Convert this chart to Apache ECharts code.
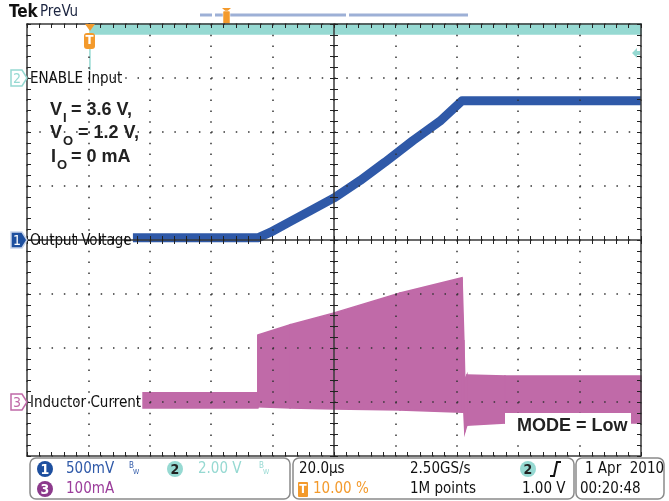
<!DOCTYPE html>
<html>
<head>
<meta charset="utf-8">
<script src="https://cdn.jsdelivr.net/npm/echarts@6/dist/echarts.min.js"></script>
<style>
  html, body { margin: 0; padding: 0; background: #fff; }
  #scope { width: 669px; height: 501px; }
</style>
</head>
<body>
<div id="scope"></div>
<script>
// time axis in µs (20 µs/div, trigger at 10 %), vertical axis in divisions
var xTicks = [-20, 0, 20, 40, 60, 80, 100, 120, 140, 160, 180];

// ch1 output voltage (V), 500 mV/div, ground on the centre line
var ch1Time = [14.5, 55.2, 59.2, 65.7, 72.2, 80, 88.5, 96.6, 105.7, 114.5, 121.7, 180];
var ch1Volt = [0.02, 0.02, 0.07, 0.17, 0.27, 0.39, 0.55, 0.72, 0.92, 1.10, 1.29, 1.29];

// ch2 enable input (V), 2 V/div, ground one div below the top (trace runs off the top)
var ch2Time = [0.5, 180];
var ch2Low = [1.63, 1.63];
var ch2High = [2.0, 2.0];
var ch2EdgeTime = [0.5, 0.5];
var ch2EdgeVolt = [0.3, 1.63];

// ch3 inductor current envelope (mA), 100 mA/div, ground one div above the bottom
var ch3Time = [17.8, 55.2, 55.2, 65.7, 80, 101.5, 121.7, 122.3, 122.6, 123.3, 135.7, 180];
var ch3Top = [17, 17, 124, 143, 165, 202, 230, 115, 42, 50, 48, 48];
var ch3Bottom = [-11, -11, -9, -11, -13, -15, -19, -19, -56, -43, -39, -39];

var BLUE = '#2f59a8', CYAN = '#96d9d2', MAGENTA = '#c06aa8', ORANGE = '#f39a2c';
var TICK = '#222';
var NARROW = '"Liberation Sans Narrow", "DejaVu Sans Condensed", "Roboto Condensed", sans-serif';
var BOLD = 'bold 18px "Liberation Sans", Arial, sans-serif';
var SUB = 'bold 13px "Liberation Sans", Arial, sans-serif';

function toDiv1(v) { return v / 0.5; }
function toDiv2(v) { return v / 2 + 3; }
function toDiv3(v) { return v / 100 - 3; }

function zip(xs, ys, f) {
  return xs.map(function (x, i) { return [x, f(ys[i])]; });
}
function bandRows(xs, lo, hi, f) {
  return xs.map(function (x, i) { return [x, f(lo[i]), f(hi[i])]; });
}

// filled envelope, one trapezoid between consecutive samples
function band(name, rows, color) {
  return {
    name: name,
    type: 'custom',
    data: rows,
    encode: { x: 0, y: [1, 2] },
    silent: true,
    renderItem: function (params, api) {
      var i = params.dataIndex;
      if (i >= rows.length - 1) return null;
      var n = rows[i + 1];
      var pts = [
        api.coord([api.value(0), api.value(2)]),
        api.coord([n[0], n[2]]),
        api.coord([n[0], n[1]]),
        api.coord([api.value(0), api.value(1)])
      ];
      return {
        type: 'polygon',
        shape: { points: pts },
        style: { fill: color, stroke: color, lineWidth: 1.5 }
      };
    }
  };
}

function scopeAxis(isX, position, offset, inside, withLine, withSplit) {
  return {
    type: 'value',
    position: position,
    offset: offset,
    z: 5,
    min: isX ? xTicks[0] : -4,
    max: isX ? xTicks[xTicks.length - 1] : 4,
    interval: isX ? 20 : 1,
    axisLine: { show: withLine, onZero: false, lineStyle: { color: '#3a3a3a', width: 1.5 } },
    axisTick: { show: true, inside: inside, length: 4, lineStyle: { color: TICK, width: 1 } },
    minorTick: { show: true, splitNumber: 5, length: 4, lineStyle: { color: TICK, width: 1 } },
    axisLabel: { show: false },
    splitLine: {
      show: withSplit,
      lineStyle: { color: '#333', width: 1.5, type: isX ? [1.5, 9.3] : [1.5, 10.78] }
    }
  };
}

function txt(x, y, s, font, fill, align) {
  return {
    type: 'text', x: x, y: y, z: 20,
    style: { text: s, font: font, fill: fill, align: align || 'left', verticalAlign: 'middle' }
  };
}
function badge(cx, cy, s, fill, color) {
  return [
    { type: 'circle', shape: { cx: cx, cy: cy, r: 8 }, style: { fill: fill } },
    txt(cx, cy + 1, s, 'bold 14px ' + NARROW, color, 'center')
  ];
}
function tag(y, s, fill, stroke, color) {
  return [
    {
      type: 'polygon', z: 20,
      shape: { points: [[11, y - 8], [22, y - 8], [27, y], [22, y + 8], [11, y + 8]] },
      style: { fill: fill, stroke: stroke, lineWidth: 1.5 }
    },
    txt(17, y + 1, s, '14px ' + NARROW, color, 'center')
  ];
}

var graphics = [].concat(
  // header
  txt(9, 13, 'Tek', 'bold 17px ' + NARROW, '#111'),
  txt(40, 12, 'PreVu', '15px ' + NARROW, '#1b2440'),
  { type: 'line', shape: { x1: 200, y1: 15, x2: 212, y2: 15 }, style: { stroke: '#9db0d6', lineWidth: 3 } },
  { type: 'line', shape: { x1: 215, y1: 15, x2: 346, y2: 15 }, style: { stroke: '#9db0d6', lineWidth: 3 } },
  { type: 'line', shape: { x1: 349, y1: 15, x2: 468, y2: 15 }, style: { stroke: '#9db0d6', lineWidth: 3 } },
  { type: 'polygon', shape: { points: [[222, 8], [231, 8], [226.5, 12]] }, style: { fill: ORANGE } },
  { type: 'rect', shape: { x: 223, y: 11, width: 7, height: 13, r: 1 }, style: { fill: ORANGE, stroke: '#fff', lineWidth: 0.5 } },
  // trigger position marker
  { type: 'polygon', z: 20, shape: { points: [[85, 24], [95, 24], [90, 31]] }, style: { fill: ORANGE } },
  { type: 'rect', z: 20, shape: { x: 84, y: 33, width: 11, height: 16, r: 3 }, style: { fill: ORANGE } },
  txt(89.5, 41, 'T', 'bold 13px ' + NARROW, '#fff', 'center'),
  // ch2 level arrow at right edge
  { type: 'polygon', z: 20, shape: { points: [[632, 53], [637, 48], [637, 51], [640, 51], [640, 55], [637, 55], [637, 58]] }, style: { fill: CYAN } },
  // channel tags and names
  tag(78, '2', '#fff', CYAN, CYAN),
  tag(240, '1', '#1d4f9f', '#c8d4ea', '#fff'),
  tag(402, '3', '#fff', MAGENTA, MAGENTA),
  txt(30, 79, 'ENABLE Input', '15px ' + NARROW, '#111'),
  txt(30, 241, 'Output Voltage', '15px ' + NARROW, '#111'),
  txt(30, 403, 'Inductor Current', '15px ' + NARROW, '#111'),
  // test conditions
  txt(50, 110, 'V', BOLD, '#222'),
  txt(63, 118, 'I', SUB, '#222'),
  txt(71, 110, '= 3.6 V,', BOLD, '#222'),
  txt(50, 133, 'V', BOLD, '#222'),
  txt(63, 141, 'O', SUB, '#222'),
  txt(78, 133, '= 1.2 V,', BOLD, '#222'),
  txt(51, 157, 'I', BOLD, '#222'),
  txt(57, 165, 'O', SUB, '#222'),
  txt(71, 157, '= 0 mA', BOLD, '#222'),
  // mode label
  { type: 'rect', z: 10, shape: { x: 505, y: 413, width: 126, height: 28 }, style: { fill: '#fff' } },
  txt(517, 426, 'MODE = Low', BOLD, '#222'),
  // status bar
  { type: 'rect', shape: { x: 30, y: 458, width: 260, height: 41, r: 6 }, style: { fill: '#fff', stroke: '#8a8a8a', lineWidth: 1.5 } },
  { type: 'rect', shape: { x: 293, y: 458, width: 281, height: 41, r: 6 }, style: { fill: '#fff', stroke: '#8a8a8a', lineWidth: 1.5 } },
  { type: 'rect', shape: { x: 576, y: 458, width: 88, height: 41, r: 6 }, style: { fill: '#fff', stroke: '#8a8a8a', lineWidth: 1.5 } },
  badge(45, 469, '1', '#1d4f9f', '#fff'),
  txt(66, 469, '500mV', '15px ' + NARROW, BLUE),
  txt(129, 466, 'B', '8px ' + NARROW, BLUE),
  txt(133, 472, 'W', '7px ' + NARROW, BLUE),
  badge(175, 469, '2', CYAN, '#222'),
  txt(198, 469, '2.00 V', '15px ' + NARROW, CYAN),
  txt(259, 466, 'B', '8px ' + NARROW, CYAN),
  txt(263, 472, 'W', '7px ' + NARROW, CYAN),
  badge(45, 489, '3', '#8c3a8c', '#fff'),
  txt(66, 489, '100mA', '15px ' + NARROW, '#9b3d9b'),
  txt(299, 469, '20.0µs', '15px ' + NARROW, '#111'),
  txt(410, 469, '2.50GS/s', '15px ' + NARROW, '#111'),
  badge(528, 469, '2', CYAN, '#222'),
  { type: 'polyline', shape: { points: [[550, 476], [554, 476], [557, 462], [561, 462]] }, style: { stroke: '#111', lineWidth: 2, fill: null } },
  { type: 'rect', shape: { x: 298, y: 482, width: 10, height: 15, r: 1 }, style: { fill: ORANGE } },
  txt(303, 490, 'T', 'bold 12px ' + NARROW, '#fff', 'center'),
  txt(313, 489, '10.00 %', '15px ' + NARROW, ORANGE),
  txt(410, 489, '1M points', '15px ' + NARROW, '#111'),
  txt(522, 489, '1.00 V', '15px ' + NARROW, '#111'),
  txt(585, 469, '1 Apr  2010', '15px ' + NARROW, '#111'),
  txt(580, 489, '00:20:48', '15px ' + NARROW, '#111')
);

var myChart = echarts.init(document.getElementById('scope'));
myChart.setOption({
  backgroundColor: '#fff',
  animation: false,
  grid: { left: 27, top: 24, width: 614, height: 432 },
  xAxis: [
    scopeAxis(true, 'bottom', 0, true, true, true),
    scopeAxis(true, 'top', 0, true, true, false),
    scopeAxis(true, 'bottom', -216, true, true, false),
    scopeAxis(true, 'bottom', -216, false, false, false)
  ],
  yAxis: [
    scopeAxis(false, 'left', 0, true, true, true),
    scopeAxis(false, 'right', 0, true, true, false),
    scopeAxis(false, 'left', -307, true, true, false),
    scopeAxis(false, 'left', -307, false, false, false)
  ],
  series: [
    band('Enable', bandRows(ch2Time, ch2Low, ch2High, toDiv2), CYAN),
    {
      name: 'Enable edge', type: 'line', data: zip(ch2EdgeTime, ch2EdgeVolt, toDiv2),
      showSymbol: false, silent: true, lineStyle: { color: CYAN, width: 1.5 }
    },
    band('Inductor Current', bandRows(ch3Time, ch3Bottom, ch3Top, toDiv3), MAGENTA),
    {
      name: 'Output Voltage', type: 'line', data: zip(ch1Time, ch1Volt, toDiv1),
      showSymbol: false, silent: true,
      lineStyle: { color: BLUE, width: 9, join: 'round', cap: 'butt' }
    }
  ],
  graphic: graphics
});
</script>
</body>
</html>
